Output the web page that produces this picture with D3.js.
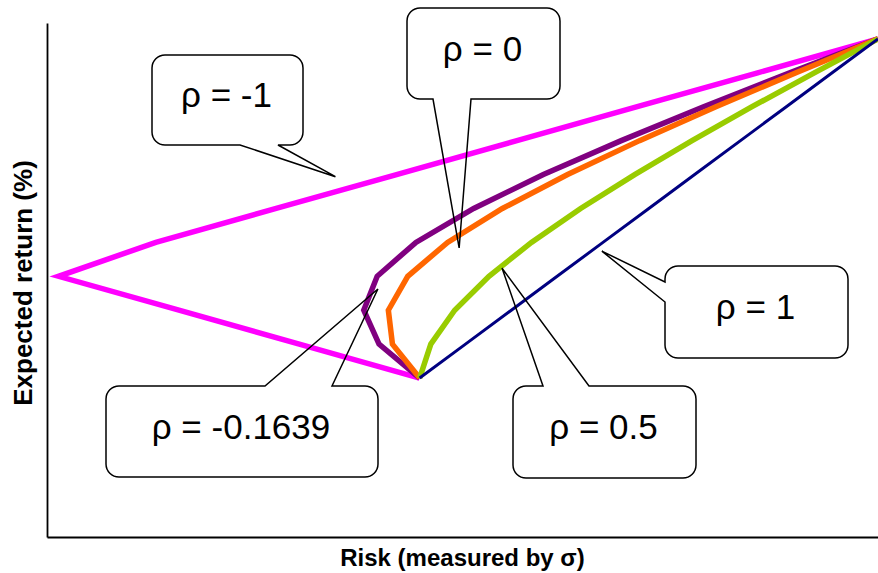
<!DOCTYPE html>
<html>
<head>
<meta charset="utf-8">
<script src="https://cdn.jsdelivr.net/npm/d3@7"></script>
<style>
    body { margin: 0; background: #fff; }
    text { font-family: "Liberation Sans", Arial, sans-serif; }
</style>
</head>
<body>
<div id="chart"></div>
<script>
// weight of asset A in the portfolio, 1 -> 0
var weightsA = [1.0, 0.9, 0.8, 0.7, 0.6, 0.5, 0.4, 0.3, 0.2, 0.1, 0.0];
// expected return (%) for each weight
var expReturn = [6.00, 7.28, 8.56, 9.84, 11.12, 12.40, 13.68, 14.96, 16.24, 17.52, 18.80];
// risk (sigma, %) for each correlation
var riskRhoNeg1 = [10.00, 6.77, 3.54, 0.31, 2.92, 6.15, 9.38, 12.61, 15.84, 19.07, 22.30];
var riskRhoNeg0_1639 = [10.00, 8.91, 8.50, 8.86, 9.90, 11.45, 13.32, 15.41, 17.62, 19.93, 22.30];
var riskRho0 = [10.00, 9.27, 9.16, 9.68, 10.75, 12.22, 13.97, 15.90, 17.95, 20.10, 22.30];
var riskRho0_5 = [10.00, 10.30, 10.94, 11.86, 13.00, 14.32, 15.77, 17.31, 18.92, 20.59, 22.30];
var riskRho1 = [10.00, 11.23, 12.46, 13.69, 14.92, 16.15, 17.38, 18.61, 19.84, 21.07, 22.30];

var labels = ["ρ = -1", "ρ = -0.1639", "ρ = 0", "ρ = 0.5", "ρ = 1"];
// where each callout points to (risk, return)
var tipRisk = [7.74, 8.88, 11.06, 12.21, 14.89];
var tipReturn = [13.60, 9.36, 10.91, 10.15, 10.79];

var widtha = 878;
var heighta = 573;
var margin = {left: 47, top: 23, right: 0, bottom: 36};

var svg = d3.select("#chart").append("svg")
    .attr("width", widtha)
    .attr("height", heighta);

var x = d3.scaleLinear().domain([0, 22.3]).range([margin.left, widtha - margin.right]);
var y = d3.scaleLinear().domain([0, 19.4]).range([heighta - margin.bottom, margin.top]);

// axes, no ticks
svg.append("g")
    .attr("transform", "translate(0," + y(0) + ")")
    .call(d3.axisBottom(x).tickValues([]).tickSizeOuter(0))
    .select(".domain").attr("stroke", "#000").attr("stroke-width", 1.8);
svg.append("g")
    .attr("transform", "translate(" + x(0) + ",0)")
    .call(d3.axisLeft(y).tickValues([]).tickSizeOuter(0))
    .select(".domain").attr("stroke", "#000").attr("stroke-width", 1.8);

svg.append("text")
    .attr("x", (x.range()[0] + x.range()[1]) / 2)
    .attr("y", 566)
    .attr("text-anchor", "middle")
    .attr("font-size", 24)
    .attr("font-weight", "bold")
    .text("Risk (measured by σ)");

svg.append("text")
    .attr("transform", "translate(32,283) rotate(-90)")
    .attr("text-anchor", "middle")
    .attr("font-size", 26)
    .attr("font-weight", "bold")
    .text("Expected return (%)");

var series = [
    {risk: riskRhoNeg1, color: "#FF00FF", w: 5.5},
    {risk: riskRhoNeg0_1639, color: "#800080", w: 5.5},
    {risk: riskRho0, color: "#FF6600", w: 5.5},
    {risk: riskRho0_5, color: "#99CC00", w: 5.5},
    {risk: riskRho1, color: "#000080", w: 3}
];

var line = d3.line()
    .x(d => x(d[0]))
    .y(d => y(d[1]));

svg.append("g")
    .selectAll("path")
    .data(series)
    .join("path")
    .attr("fill", "none")
    .attr("stroke", d => d.color)
    .attr("stroke-width", d => d.w)
    .attr("d", d => line(d.risk.map((r, i) => [r, expReturn[i]])));

// callout boxes (pixel layout), same order as labels
var boxes = [
    {x0: 152, y0: 55, x1: 303, y1: 145, side: "bottom", a: 240, b: 278},
    {x0: 106, y0: 386, x1: 378, y1: 477, side: "top", a: 265, b: 332},
    {x0: 407, y0: 8, x1: 560, y1: 99, side: "bottom", a: 433, b: 471},
    {x0: 513, y0: 386, x1: 696, y1: 478, side: "top", a: 543, b: 589},
    {x0: 665, y0: 266, x1: 848, y1: 358, side: "left", a: 282, b: 302}
];

function callout(bx, tx, ty) {
    var r = 13;
    var p = d3.path();
    p.moveTo(bx.x0 + r, bx.y0);
    if (bx.side == "top") {
        p.lineTo(bx.a, bx.y0);
        p.lineTo(tx, ty);
        p.lineTo(bx.b, bx.y0);
    }
    p.lineTo(bx.x1 - r, bx.y0);
    p.arcTo(bx.x1, bx.y0, bx.x1, bx.y0 + r, r);
    p.lineTo(bx.x1, bx.y1 - r);
    p.arcTo(bx.x1, bx.y1, bx.x1 - r, bx.y1, r);
    if (bx.side == "bottom") {
        p.lineTo(bx.b, bx.y1);
        p.lineTo(tx, ty);
        p.lineTo(bx.a, bx.y1);
    }
    p.lineTo(bx.x0 + r, bx.y1);
    p.arcTo(bx.x0, bx.y1, bx.x0, bx.y1 - r, r);
    if (bx.side == "left") {
        p.lineTo(bx.x0, bx.b);
        p.lineTo(tx, ty);
        p.lineTo(bx.x0, bx.a);
    }
    p.lineTo(bx.x0, bx.y0 + r);
    p.arcTo(bx.x0, bx.y0, bx.x0 + r, bx.y0, r);
    p.closePath();
    return p.toString();
}

var notes = svg.append("g")
    .selectAll("g")
    .data(labels)
    .join("g");

notes.append("path")
    .attr("fill", "none")
    .attr("stroke", "#000")
    .attr("stroke-width", 1.5)
    .attr("stroke-linejoin", "miter")
    .attr("d", (d, i) => callout(boxes[i], x(tipRisk[i]), y(tipReturn[i])));

notes.append("text")
    .attr("x", (d, i) => (boxes[i].x0 + boxes[i].x1) / 2 - 1)
    .attr("y", (d, i) => (boxes[i].y0 + boxes[i].y1) / 2 + 7)
    .attr("text-anchor", "middle")
    .attr("font-size", 35)
    .attr("fill", "#000")
    .text(d => d);
</script>
</body>
</html>
